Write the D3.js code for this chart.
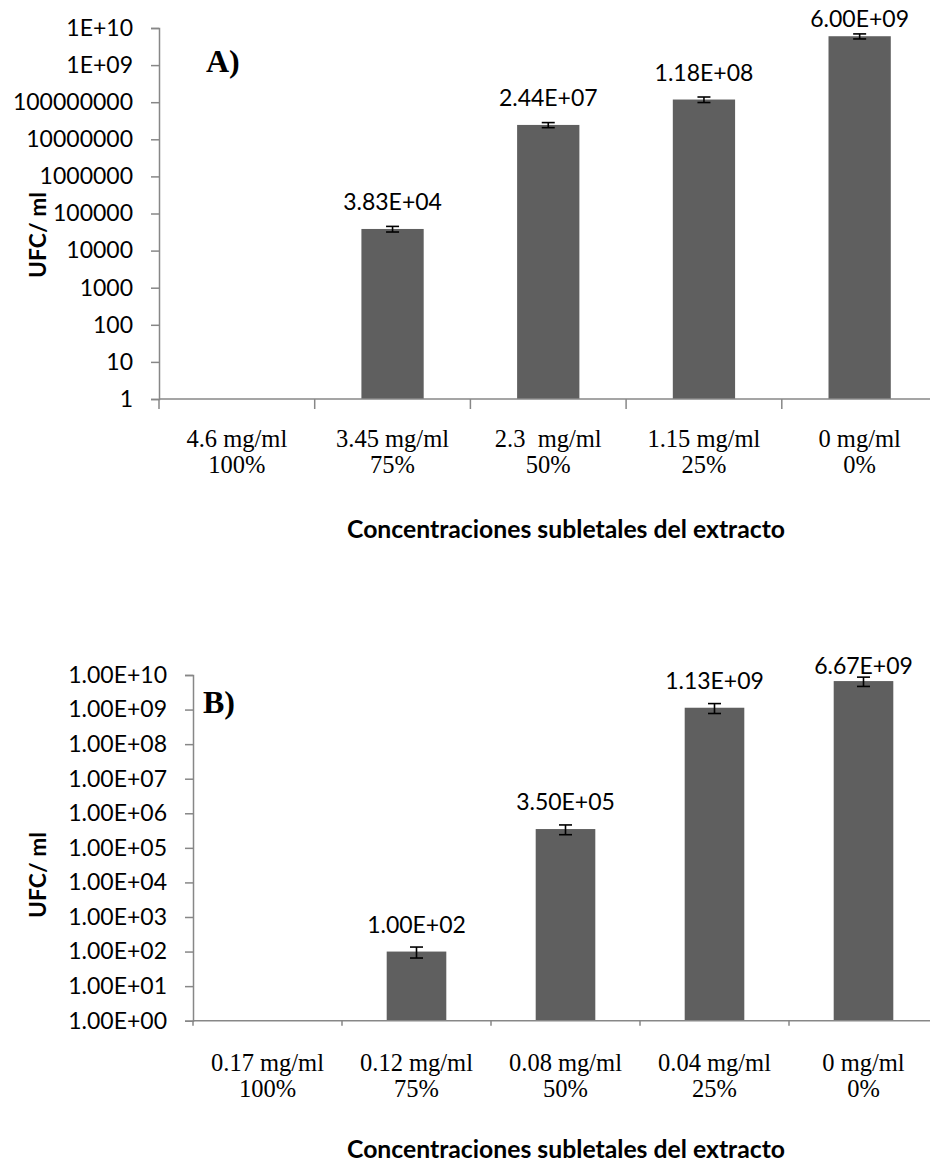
<!DOCTYPE html>
<html>
<head>
<meta charset="utf-8">
<script src="https://cdn.jsdelivr.net/npm/d3@7"></script>
<style>
  html, body { margin: 0; padding: 0; background: #fff; }
  svg { display: block; }
  .sans { font-family: Lato, "Open Sans", sans-serif; }
  .serif { font-family: "Liberation Serif", "DejaVu Serif", serif; }
</style>
</head>
<body>
<svg id="chart" width="930" height="1168"></svg>
<script>
// Concentration labels (first line) and relative strength (second line)
const concentrationsA = ["4.6 mg/ml", "3.45 mg/ml", "2.3  mg/ml", "1.15 mg/ml", "0 mg/ml"];
const concentrationsB = ["0.17 mg/ml", "0.12 mg/ml", "0.08 mg/ml", "0.04 mg/ml", "0 mg/ml"];
const percentages = ["100%", "75%", "50%", "25%", "0%"];

// Colony counts (UFC/ml) and their standard deviations; 0 = no growth
const countsA = [0, 3.83e4, 2.44e7, 1.18e8, 6.00e9];
const errorsA = [0, 6.6e3, 3.8e6, 2.0e7, 9.3e8];
const countsB = [0, 1.00e2, 3.50e5, 1.13e9, 6.67e9];
const errorsB = [0, 35, 1.1e5, 3.6e8, 2.0e9];

// Logarithmic axis ticks and their labels
const decades = [1, 1e1, 1e2, 1e3, 1e4, 1e5, 1e6, 1e7, 1e8, 1e9, 1e10];
const tickLabelsA = ["1", "10", "100", "1000", "10000", "100000", "1000000",
                     "10000000", "100000000", "1E+09", "1E+10"];
const tickLabelsB = ["1.00E+00", "1.00E+01", "1.00E+02", "1.00E+03", "1.00E+04", "1.00E+05",
                     "1.00E+06", "1.00E+07", "1.00E+08", "1.00E+09", "1.00E+10"];

const xTitle = "Concentraciones subletales del extracto";
const yTitle = "UFC/ ml";

const svg = d3.select("#chart");
const AXIS_COLOR = "#878787";
const BAR_COLOR = "#5f5f5f";

// Scientific notation with a two-digit exponent, e.g. 3.83E+04
function sci(v) {
  const [m, e] = v.toExponential(2).split("e");
  const n = Math.abs(+e);
  return m + "E" + (+e < 0 ? "-" : "+") + (n < 10 ? "0" + n : n);
}

// Scale a text's font size so it spans the given width
function fitWidth(sel, width) {
  const node = sel.node();
  const size = parseFloat(sel.attr("font-size"));
  const len = node.getComputedTextLength();
  sel.attr("font-size", size * width / len);
}

function panel(cfg) {
  const g = svg.append("g");
  const cats = cfg.cats.map((c, i) => i);

  const x = d3.scaleBand()
    .domain(cats)
    .range([cfg.left, cfg.right])
    .paddingInner(0.6)
    .paddingOuter(0.3);
  const step = x.step();

  const y = d3.scaleLog()
    .domain([1, 1e10])
    .range([cfg.bottom, cfg.top]);

  // Y axis
  const yAxis = g.append("g")
    .attr("transform", `translate(${cfg.left},0)`)
    .call(d3.axisLeft(y)
      .tickValues(decades)
      .tickFormat((d, i) => cfg.tickLabels[i])
      .tickSize(8)
      .tickPadding(18));
  yAxis.select(".domain").attr("stroke", AXIS_COLOR).attr("stroke-width", 1.5);
  yAxis.selectAll(".tick line").attr("stroke", AXIS_COLOR).attr("stroke-width", 1.5);
  yAxis.selectAll(".tick text")
    .attr("class", "sans")
    .attr("font-size", 23)
    .attr("fill", "#000");

  // Bars
  const rows = cats.map(i => ({ i, v: cfg.values[i], e: cfg.errors[i] }))
    .filter(d => d.v > 0);

  g.append("g").selectAll("rect")
    .data(rows)
    .join("rect")
    .attr("x", d => x(d.i))
    .attr("width", x.bandwidth())
    .attr("y", d => y(d.v))
    .attr("height", d => y(1) - y(d.v))
    .attr("fill", BAR_COLOR);

  // Error bars
  const capHalf = 6.5;
  const eb = g.append("g").selectAll("g")
    .data(rows)
    .join("g")
    .attr("stroke", "#000")
    .attr("stroke-width", 1.6);
  eb.append("line")
    .attr("x1", d => x(d.i) + x.bandwidth() / 2)
    .attr("x2", d => x(d.i) + x.bandwidth() / 2)
    .attr("y1", d => y(d.v + d.e))
    .attr("y2", d => y(d.v - d.e));
  eb.append("line")
    .attr("x1", d => x(d.i) + x.bandwidth() / 2 - capHalf)
    .attr("x2", d => x(d.i) + x.bandwidth() / 2 + capHalf)
    .attr("y1", d => y(d.v + d.e))
    .attr("y2", d => y(d.v + d.e));
  eb.append("line")
    .attr("x1", d => x(d.i) + x.bandwidth() / 2 - capHalf)
    .attr("x2", d => x(d.i) + x.bandwidth() / 2 + capHalf)
    .attr("y1", d => y(d.v - d.e))
    .attr("y2", d => y(d.v - d.e));

  // Value labels above bars, kept inside the plot area
  g.append("g").selectAll("text")
    .data(rows)
    .join("text")
    .attr("class", "sans")
    .attr("font-size", 23)
    .attr("text-anchor", "middle")
    .attr("x", d => x(d.i) + x.bandwidth() / 2)
    .attr("y", d => Math.max(y(d.v) - 19, cfg.top - 1))
    .text(d => sci(d.v));

  // X axis line and category separators
  g.append("line")
    .attr("x1", cfg.left).attr("x2", cfg.right)
    .attr("y1", y(1)).attr("y2", y(1))
    .attr("stroke", AXIS_COLOR).attr("stroke-width", 1.5);
  const bounds = d3.range(cats.length + 1)
    .map(k => x(0) + x.bandwidth() / 2 - step / 2 + k * step);
  g.append("g").selectAll("line")
    .data(bounds)
    .join("line")
    .attr("x1", d => d).attr("x2", d => d)
    .attr("y1", y(1)).attr("y2", y(1) + cfg.catTick)
    .attr("stroke", AXIS_COLOR).attr("stroke-width", 1.5);

  // Category labels (two lines)
  const lab = g.append("g").selectAll("text")
    .data(cats)
    .join("text")
    .attr("class", "serif")
    .attr("font-size", 24.5)
    .attr("text-anchor", "middle")
    .style("white-space", "pre")
    .attr("fill", "#000");
  lab.append("tspan")
    .attr("x", i => x(i) + x.bandwidth() / 2)
    .attr("y", y(1) + cfg.line1)
    .text(i => cfg.cats[i]);
  lab.append("tspan")
    .attr("x", i => x(i) + x.bandwidth() / 2)
    .attr("y", y(1) + cfg.line1 + 26)
    .text(i => percentages[i]);

  // Axis titles
  const xt = g.append("text")
    .attr("class", "sans")
    .attr("font-weight", 700)
    .attr("font-size", 24)
    .attr("text-anchor", "middle")
    .attr("x", 566)
    .attr("y", cfg.xTitleY)
    .text(xTitle);
  fitWidth(xt, 438);

  const yt = g.append("text")
    .attr("class", "sans")
    .attr("font-weight", 700)
    .attr("font-size", 24)
    .attr("text-anchor", "middle")
    .attr("dominant-baseline", "central")
    .attr("transform", `translate(37,${cfg.yTitleY}) rotate(-90)`)
    .text(yTitle);
  fitWidth(yt, 86);

  // Panel letter
  g.append("text")
    .attr("class", "serif")
    .attr("font-weight", 700)
    .attr("font-size", 32)
    .attr("x", cfg.letterX)
    .attr("y", cfg.letterY)
    .text(cfg.letter);
}

panel({
  cats: concentrationsA, values: countsA, errors: errorsA, tickLabels: tickLabelsA,
  left: 159, right: 937.5, top: 28, bottom: 399,
  catTick: 10, line1: 48, xTitleY: 538, yTitleY: 235,
  letter: "A)", letterX: 206, letterY: 72
});

panel({
  cats: concentrationsB, values: countsB, errors: errorsB, tickLabels: tickLabelsB,
  left: 193, right: 938, top: 675, bottom: 1020.7,
  catTick: 5, line1: 50, xTitleY: 1158, yTitleY: 875,
  letter: "B)", letterX: 203, letterY: 713
});
</script>
</body>
</html>
